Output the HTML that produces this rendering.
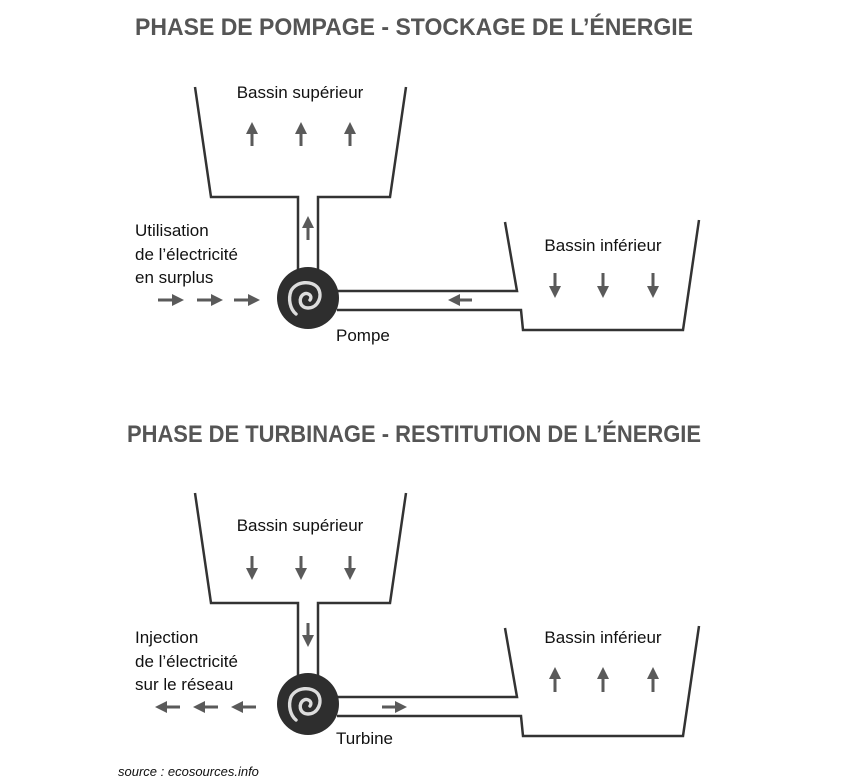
<!DOCTYPE html>
<html><head><meta charset="utf-8"><style>
html,body{margin:0;padding:0;background:#fff;}
svg{display:block;}
text{font-family:"Liberation Sans",sans-serif;fill:#111;}
.t{font-weight:bold;fill:#555;font-size:24px;}
.l{font-size:17px;}
.p{fill:none;stroke:#333;stroke-width:2.5;}
.a{stroke:#5a5a5a;stroke-width:3;}
</style></head><body>
<svg width="859" height="780" viewBox="0 0 859 780">
<defs>
<marker id="h" viewBox="0 0 10 10" refX="5" refY="5" markerWidth="4" markerHeight="4" orient="auto"><path d="M0,0 L10,5 L0,10 z" fill="#5a5a5a"/></marker>
<g id="pump">
<circle cx="0" cy="0" r="31" fill="#2e2e2e"/>
<path d="M2,2 C5,-2 0,-6 -4,-4 C-10,-1 -9,10 0,10 C10,10 15,-2 10,-10 C4,-18 -12,-17 -17,-7 C-20,1 -18,11 -12,16" fill="none" stroke="#ddd" stroke-width="3.4" stroke-linecap="round"/>
</g>
</defs>
<text class="t" x="135" y="35" textLength="558" lengthAdjust="spacingAndGlyphs">PHASE DE POMPAGE - STOCKAGE DE L’ÉNERGIE</text>
<text class="t" x="127" y="442" textLength="574" lengthAdjust="spacingAndGlyphs">PHASE DE TURBINAGE - RESTITUTION DE L’ÉNERGIE</text>

<!-- top phase -->
<path class="p" d="M195,87 L211,197 L298,197 L298,270 M318,270 L318,197 L390,197 L406,87"/>
<path class="p" d="M337,291 L517,291 L505,222 M337,310 L521,310 L523,330 L683,330 L699,220"/>
<use href="#pump" x="308" y="298"/>
<text class="l" x="300" y="98" text-anchor="middle">Bassin supérieur</text>
<text class="l" x="603" y="251" text-anchor="middle">Bassin inférieur</text>
<text class="l" x="336" y="341">Pompe</text>
<text class="l" x="135" y="236">Utilisation</text>
<text class="l" x="135" y="260">de l’électricité</text>
<text class="l" x="135" y="283">en surplus</text>
<g class="a" marker-end="url(#h)">
<line x1="252" y1="146" x2="252" y2="128"/><line x1="301" y1="146" x2="301" y2="128"/><line x1="350" y1="146" x2="350" y2="128"/>
<line x1="308" y1="240" x2="308" y2="222"/>
<line x1="472" y1="300" x2="454" y2="300"/>
<line x1="555" y1="273" x2="555" y2="292"/><line x1="603" y1="273" x2="603" y2="292"/><line x1="653" y1="273" x2="653" y2="292"/>
<line x1="158" y1="300" x2="178" y2="300"/><line x1="197" y1="300" x2="217" y2="300"/><line x1="234" y1="300" x2="254" y2="300"/>
</g>

<!-- bottom phase -->
<path class="p" d="M195,493 L211,603 L298,603 L298,676 M318,676 L318,603 L390,603 L406,493"/>
<path class="p" d="M337,697 L517,697 L505,628 M337,716 L521,716 L523,736 L683,736 L699,626"/>
<use href="#pump" x="308" y="704"/>
<text class="l" x="300" y="531" text-anchor="middle">Bassin supérieur</text>
<text class="l" x="603" y="643" text-anchor="middle">Bassin inférieur</text>
<text class="l" x="336" y="744">Turbine</text>
<text class="l" x="135" y="643">Injection</text>
<text class="l" x="135" y="667">de l’électricité</text>
<text class="l" x="135" y="690">sur le réseau</text>
<g class="a" marker-end="url(#h)">
<line x1="252" y1="556" x2="252" y2="574"/><line x1="301" y1="556" x2="301" y2="574"/><line x1="350" y1="556" x2="350" y2="574"/>
<line x1="308" y1="623" x2="308" y2="641"/>
<line x1="382" y1="707" x2="401" y2="707"/>
<line x1="555" y1="692" x2="555" y2="673"/><line x1="603" y1="692" x2="603" y2="673"/><line x1="653" y1="692" x2="653" y2="673"/>
<line x1="180" y1="707" x2="161" y2="707"/><line x1="218" y1="707" x2="199" y2="707"/><line x1="256" y1="707" x2="237" y2="707"/>
</g>
<text x="118" y="776" font-size="13" font-style="italic">source : ecosources.info</text>
</svg>
</body></html>
